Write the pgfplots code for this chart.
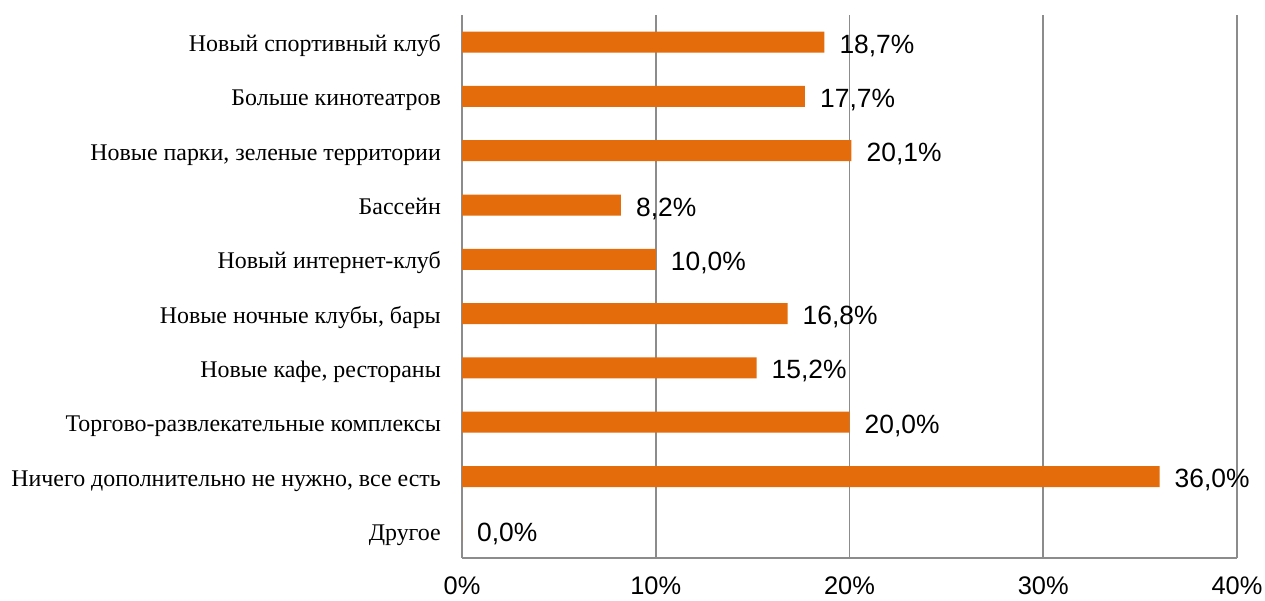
\documentclass[border=0pt]{standalone}
\usepackage{pgfplots}
\pgfplotsset{compat=1.18}
\usepackage{fontspec}
\setmainfont{Liberation Serif}
\newfontfamily\arial{Liberation Sans}
\definecolor{barc}{HTML}{E46C0A}
\definecolor{gridc}{HTML}{8C8C8C}
\begin{document}
\begin{tikzpicture}[x=1bp,y=1bp]
\useasboundingbox (0,0) rectangle (1265,601);
\begin{axis}[
  at={(462bp,43bp)}, anchor=south west,
  scale only axis, width=775bp, height=543bp,
  xmin=0, xmax=40, ymin=-0.5, ymax=9.5,
  xbar, bar width=21bp,
  xtick={0,10,20,30,40},
  xticklabels={0\%,10\%,20\%,30\%,40\%},
  ytick={0,...,9},
  yticklabels={Другое,{Ничего дополнительно не нужно, все есть},Торгово-развлекательные комплексы,{Новые кафе, рестораны},{Новые ночные клубы, бары},Новый интернет-клуб,Бассейн,{Новые парки, зеленые территории},Больше кинотеатров,Новый спортивный клуб},
  xmajorgrids, grid style={gridc, line width=1.6bp},
  axis x line*=bottom, axis y line*=left,
  axis line style={gridc, line width=1.6bp, -},
  major tick length=0pt,
  yticklabel style={font=\fontsize{24}{28}\selectfont, inner sep=0pt, anchor=base east, yshift=-9.5bp},
  yticklabel shift={21bp},
  xticklabel style={font=\arial\fontsize{25.5}{30}\selectfont, inner sep=0pt, anchor=north},
  xticklabel shift={19bp},
  nodes near coords={\pgfmathprintnumber[fixed,fixed zerofill,precision=1,use comma,assume math mode=true]{\pgfplotspointmeta}\%},
  nodes near coords style={font=\arial\fontsize{26.5}{30}\selectfont, anchor=base west, inner sep=0pt, xshift=15bp, yshift=-11bp, text=black},
  point meta=x,
]
\addplot[fill=barc, draw=none] coordinates {
(0,0) (36.0,1) (20.0,2) (15.2,3) (16.8,4) (10.0,5) (8.2,6) (20.1,7) (17.7,8) (18.7,9)
};
\end{axis}
\end{tikzpicture}
\end{document}
